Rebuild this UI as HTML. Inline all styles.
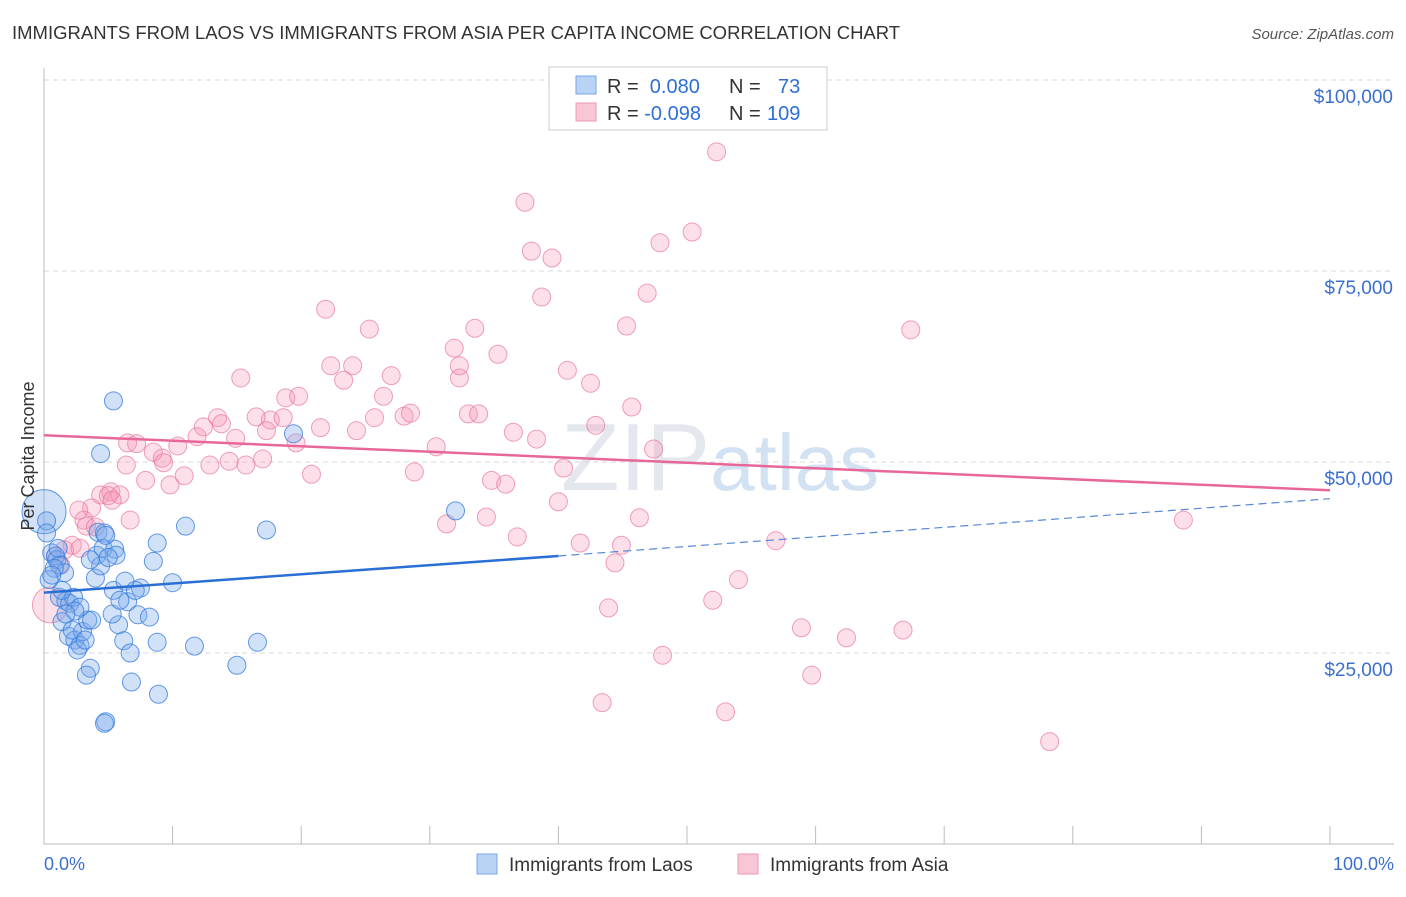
<!DOCTYPE html>
<html><head><meta charset="utf-8"><style>
body{margin:0;background:#fff;font-family:"Liberation Sans",sans-serif;}
svg text{font-family:"Liberation Sans",sans-serif;}
</style></head><body>
<svg id="chart" width="1406" height="892" xmlns="http://www.w3.org/2000/svg">
<text x="12" y="39" font-size="18.5" fill="#333">IMMIGRANTS FROM LAOS VS IMMIGRANTS FROM ASIA PER CAPITA INCOME CORRELATION CHART</text>
<text x="1394" y="39" font-size="15" fill="#555" text-anchor="end" font-style="italic">Source: ZipAtlas.com</text>
<text x="720" y="490" font-size="96" fill="#e4e8ee" text-anchor="middle" font-family="Liberation Serif">ZIP<tspan fill="#d3e2f3" font-family="Liberation Sans" font-size="80">atlas</tspan></text>
<g id="grid"></g>
<g id="axes"></g>
<g id="pink"></g>
<g id="blue"></g>
<g id="trends"></g>
<text transform="translate(34,456) rotate(-90)" font-size="18" fill="#333" text-anchor="middle">Per Capita Income</text>
<text x="44" y="870" font-size="18" fill="#3a6fd0">0.0%</text>
<text x="1394" y="870" font-size="18" fill="#3a6fd0" text-anchor="end">100.0%</text>
<g>
<rect x="549" y="67" width="278" height="63" fill="#fff" stroke="#ccc"/>
<rect x="576" y="76" width="20" height="18" fill="#b9d3f5" stroke="#7aa6e6"/>
<rect x="576" y="103" width="20" height="18" fill="#f8c6d5" stroke="#ee9ab4"/>
<text x="607" y="93" font-size="20" fill="#333">R = <tspan fill="#2e6fd6">&#160;0.080</tspan><tspan x="729">N = </tspan><tspan fill="#2e6fd6" x="778">73</tspan></text>
<text x="607" y="120" font-size="20" fill="#333">R = <tspan fill="#2e6fd6">-0.098</tspan><tspan x="729">N = </tspan><tspan fill="#2e6fd6" x="767">109</tspan></text>
</g>
<g>
<rect x="477" y="854" width="20" height="20" fill="#b9d3f5" stroke="#7aa6e6"/>
<text x="509" y="871" font-size="19" fill="#333">Immigrants from Laos</text></g>
<g>
<rect x="738" y="854" width="20" height="20" fill="#f8c6d5" stroke="#ee9ab4"/>
<text x="770" y="871" font-size="19" fill="#333">Immigrants from Asia</text></g>
</svg>
<script>
const yTicks=[25000,50000,75000,100000];
const yTickLabels=["$25,000","$50,000","$75,000","$100,000"];
const blueX=[0,0.2,0.2,0.6,0.9,1.0,1.2,1.6,0.8,1.2,1.7,2.0,2.3,1.9,2.4,2.8,2.6,3.0,3.4,3.7,1.4,3.6,3.3,4.0,4.1,4.2,4.7,4.4,4.6,5.5,5.6,5.4,5.8,6.2,6.7,6.8,5.3,6.3,6.5,7.3,7.5,8.2,8.8,8.9,8.5,8.8,10.0,11.0,11.7,15.0,16.6,17.3,19.4,4.8,4.7,5.4,4.4,32.0,4.8,5.9,2.8,2.4,1.7,1.1,1.4,2.2,3.2,0.4,0.6,3.6,5.0,7.1];
const blueY=[43.5,42.3,40.7,38.1,37.7,37.2,36.5,35.5,36.1,32.3,31.8,31.5,32.3,27.2,26.7,26.0,25.4,27.8,29.3,29.3,29.1,23.0,22.1,34.8,37.8,40.8,40.7,36.4,38.7,38.6,37.8,33.2,28.7,26.6,25.0,21.2,30.1,34.4,31.7,30.0,33.5,29.7,26.4,19.6,37.0,39.4,34.2,41.6,25.9,23.4,26.4,41.1,53.7,16.0,15.8,58.0,51.1,43.6,40.4,31.9,31.0,30.5,30.1,38.7,33.2,28.0,26.7,34.6,35.2,37.2,37.5,33.2];
const blueSize=[22,9,9,9,9,9,9,9,9,9,9,9,9,9,9,9,9,9,9,9,9,9,9,9,9,9,9,9,9,9,9,9,9,9,9,9,9,9,9,9,9,9,9,9,9,9,9,9,9,9,9,9,9,9,9,9,9,9,9,9,9,9,9,9,9,9,9,9,9,9,9,9];
const pinkX=[52.3,37.4,37.9,39.5,47.9,50.4,38.7,46.9,21.9,67.4,45.3,33.5,25.3,31.9,35.3,22.3,24.0,40.7,27.0,15.3,23.3,32.3,42.5,32.3,18.8,26.4,19.8,13.5,12.4,13.8,17.6,18.6,16.5,25.7,28.0,33.0,33.8,45.7,21.5,24.3,28.5,36.5,38.3,42.9,14.9,11.9,17.3,10.4,6.5,7.2,8.5,9.2,9.3,6.4,12.9,15.7,17.0,14.4,19.6,30.5,47.4,10.9,7.9,9.8,20.8,28.8,34.8,35.9,40.4,40.0,4.4,5.2,5.9,5.0,3.7,3.1,2.7,3.3,31.3,34.4,46.3,88.6,36.8,41.7,44.9,56.9,2.2,1.6,0.9,0.5,1.3,44.4,54.0,43.9,52.0,58.9,62.4,66.8,48.1,59.7,43.4,53.0,78.2,2.8,4.0,5.3,6.7];
const pinkY=[90.6,84.0,77.6,76.7,78.7,80.1,71.6,72.1,70.0,67.3,67.8,67.5,67.4,64.9,64.1,62.6,62.6,62.0,61.3,61.0,60.7,61.0,60.3,62.6,58.4,58.6,58.6,55.8,54.6,55.0,55.5,55.8,55.9,55.8,56.0,56.3,56.3,57.2,54.5,54.1,56.4,53.9,53.0,54.8,53.1,53.3,54.1,52.1,52.5,52.4,51.3,50.5,49.9,49.6,49.6,49.6,50.4,50.1,52.5,52.0,51.7,48.2,47.6,47.0,48.4,48.7,47.6,47.1,49.2,44.8,45.7,46.1,45.7,45.6,44.0,42.4,43.7,41.6,41.9,42.8,42.7,42.4,40.2,39.4,39.1,39.7,39.1,38.5,37.7,31.3,36.5,36.8,34.6,30.9,31.9,28.3,27.0,28.0,24.7,22.1,18.5,17.3,13.4,38.7,41.5,45.0,42.4];
const pinkBigIdx=[89];
const blueTrendX=[0,40,100];
const blueTrendY=[32.9,37.7,45.2];
const pinkTrendX=[0,100];
const pinkTrendY=[53.5,46.3];

const NS="http://www.w3.org/2000/svg";
function sx(v){return 44+v*12.86;}
function sy(v){return 844-v*191/25000;}
function syk(v){return sy(v*1000);}
function mk(tag,attrs,parent){const e=document.createElementNS(NS,tag);for(const k in attrs)e.setAttribute(k,attrs[k]);parent.appendChild(e);return e;}
const grid=document.getElementById('grid'),axes=document.getElementById('axes');
yTicks.forEach((t,i)=>{
  const l=mk('line',{x1:44,x2:1394,y1:sy(t),y2:sy(t),stroke:'#d8d8d8','stroke-dasharray':'5,4'},grid);
  
  
  const tx=mk('text',{x:1393,y:sy(t)+23,'font-size':19,fill:'#3a6fd0','text-anchor':'end'},grid);
  tx.textContent=yTickLabels[i];
  
  
});
const ya=mk('line',{x1:44,x2:44,y1:68,y2:844,stroke:'#bbb'},axes);


const xa=mk('line',{x1:44,x2:1394,y1:844,y2:844,stroke:'#bbb'},axes);


for(let p=0;p<=100;p+=10){
  const t=mk('line',{x1:sx(p),x2:sx(p),y1:826,y2:844,stroke:'#bbb'},axes);
  
  
}
const pg=document.getElementById('pink');
pinkX.forEach((x,i)=>{
  const r=pinkBigIdx.includes(i)?18:9;
  const c=mk('circle',{cx:sx(x),cy:syk(pinkY[i]),r:r,fill:'rgba(244,150,180,0.3)',stroke:'rgba(232,120,160,0.7)','stroke-width':1},pg);
  
  
});
const bg=document.getElementById('blue');
blueX.forEach((x,i)=>{
  const c=mk('circle',{cx:sx(x),cy:syk(blueY[i]),r:blueSize[i],fill:'rgba(120,170,235,0.35)',stroke:'rgba(50,120,220,0.75)','stroke-width':1},bg);
  
  
});
const tg=document.getElementById('trends');
const bt1=mk('line',{x1:sx(blueTrendX[0]),y1:syk(blueTrendY[0]),x2:sx(blueTrendX[1]),y2:syk(blueTrendY[1]),stroke:'#2a6fd6','stroke-width':2.5},tg);


const bt2=mk('line',{x1:sx(blueTrendX[1]),y1:syk(blueTrendY[1]),x2:sx(blueTrendX[2]),y2:syk(blueTrendY[2]),stroke:'#5588d8','stroke-width':1.2,'stroke-dasharray':'8,5'},tg);


const pt=mk('line',{x1:sx(pinkTrendX[0]),y1:syk(pinkTrendY[0]),x2:sx(pinkTrendX[1]),y2:syk(pinkTrendY[1]),stroke:'#e8679a','stroke-width':2.5},tg);


</script>
</body></html>
